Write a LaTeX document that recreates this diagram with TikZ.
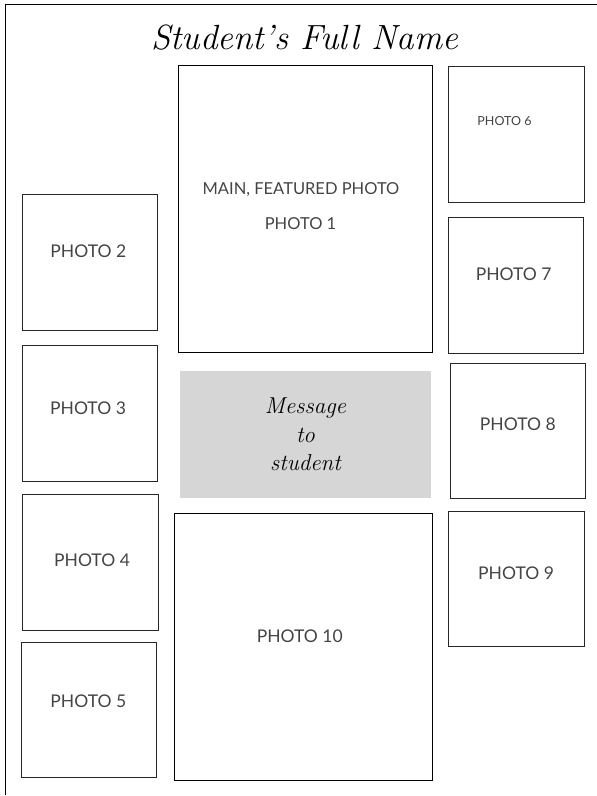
\documentclass[tikz,border=0pt]{standalone}
\usepackage{fontspec}
\newfontfamily\photofont{Lato}
\definecolor{msggray}{HTML}{D6D6D6}
\definecolor{labelgray}{HTML}{444444}
\tikzset{
  photobox/.style={draw=black!85,line width=0.9pt,inner sep=0pt},
  phototext/.style={text=labelgray,inner sep=0pt,font=\photofont\fontsize{17.5}{21}\selectfont},
}
\begin{document}
\begin{tikzpicture}[x=1pt,y=-1pt]
\useasboundingbox (0,0) rectangle (597,796);
% page frame, cut at right and bottom
\coordinate (fbot) at (5.5,795);
\coordinate (fcorner) at (5.5,4.5);
\coordinate (fright) at (597,4.5);
\draw[line width=1.2pt] (fbot)--(fcorner)--(fright);
\node[anchor=base,font=\itshape\fontsize{35}{40}\selectfont] (title) at (304.5,49) {Student’s Full Name};
% middle column
\node[photobox,draw=black,minimum width=254.5pt,minimum height=287pt] (p1) at (305.25,208.5) {};
\node[phototext,font=\photofont\fontsize{16.5}{20}\selectfont] (t1a) at (301,189.3) {MAIN, FEATURED PHOTO};
\node[phototext,font=\photofont\fontsize{16.5}{20}\selectfont] (t1b) at (300.5,223.7) {PHOTO 1};
\node[fill=msggray,inner sep=0pt,minimum width=251pt,minimum height=127.3pt] (msg) at (305.5,434.65) {};
\node[align=center,inner sep=0pt,font=\itshape\fontsize{23}{28.5}\selectfont] (msgtext) at (msg.center) {Message\\to\\student};
\node[photobox,draw=black,minimum width=258pt,minimum height=266.7pt] (p10) at (303.7,646.65) {};
\node[phototext] (t10) at (299.7,636.7) {PHOTO 10};
% left column
\node[photobox,minimum width=135pt,minimum height=136pt] (p2) at (90,262.5) {};
\node[phototext] (t2) at (88.3,251.5) {PHOTO 2};
\node[photobox,minimum width=135pt,minimum height=136pt] (p3) at (89.5,413) {};
\node[phototext] (t3) at (88,408) {PHOTO 3};
\node[photobox,minimum width=135.5pt,minimum height=136pt] (p4) at (90.25,562) {};
\node[phototext] (t4) at (92,560) {PHOTO 4};
\node[photobox,minimum width=135.7pt,minimum height=135.7pt] (p5) at (88.85,709.85) {};
\node[phototext] (t5) at (88.3,701.5) {PHOTO 5};
% right column
\node[photobox,minimum width=136pt,minimum height=136pt] (p6) at (516.5,134) {};
\node[phototext,font=\photofont\fontsize{12.5}{15}\selectfont] (t6) at (504.5,121.2) {PHOTO 6};
\node[photobox,minimum width=135pt,minimum height=136pt] (p7) at (515.5,285) {};
\node[phototext] (t7) at (513.7,274.5) {PHOTO 7};
\node[photobox,minimum width=135pt,minimum height=135pt] (p8) at (517.5,430.5) {};
\node[phototext] (t8) at (517.8,424) {PHOTO 8};
\node[photobox,minimum width=136pt,minimum height=135pt] (p9) at (516,578.5) {};
\node[phototext] (t9) at (516,573) {PHOTO 9};
\end{tikzpicture}
\end{document}
